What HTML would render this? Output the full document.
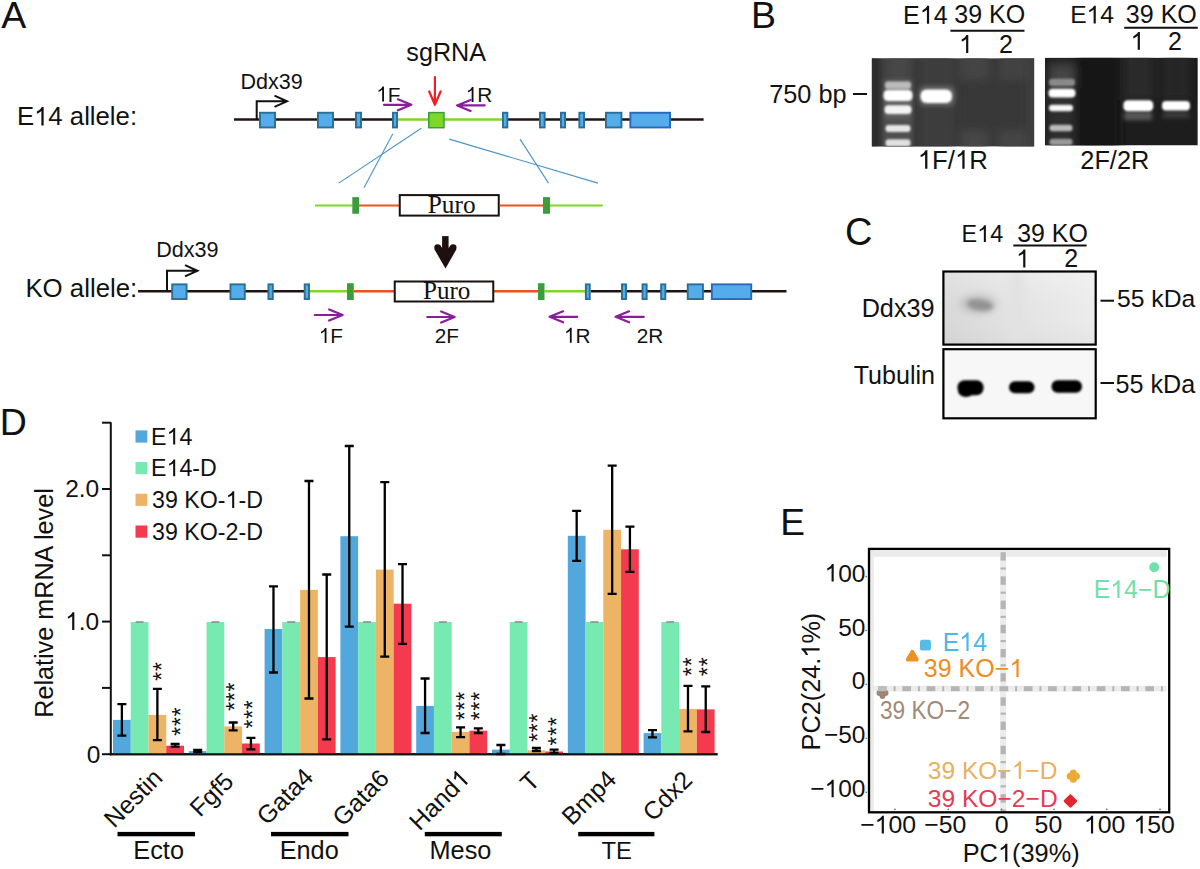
<!DOCTYPE html>
<html><head><meta charset="utf-8"><style>html,body{margin:0;padding:0;background:#fff;}svg{display:block;}</style></head>
<body><svg width="1200" height="869" viewBox="0 0 1200 869">
<rect width="1200" height="869" fill="#fff"/>
<text x="1.23" y="28.30" font-family='"Liberation Sans", sans-serif' font-size="37.50" fill="#111" >A</text><g><text id="t1_0" x="16.89" y="125.40" font-family='"Liberation Sans", sans-serif' font-size="25.74" fill="#111" >E 4 allele:</text><path d="M763,0 L583,0 L583,1147 Q520,1087 418,1027 Q316,967 223,932 L223,1106 Q362,1171 466,1264 Q570,1357 614,1466 L763,1466 Z" fill="#111" transform="translate(34.05,125.40) scale(0.01257,-0.01257)"/></g><text x="25.38" y="296.90" font-family='"Liberation Sans", sans-serif' font-size="25.82" fill="#111" >KO allele:</text><line x1="234.00" y1="119.50" x2="398.00" y2="119.50" stroke="#1e1414" stroke-width="2.4" /><line x1="398.00" y1="119.50" x2="502.00" y2="119.50" stroke="#7ed626" stroke-width="2.4" /><line x1="508.00" y1="119.50" x2="703.60" y2="119.50" stroke="#1e1414" stroke-width="2.4" /><rect x="259.95" y="112.75" width="15.10" height="14.70" fill="#55acea" stroke="#2b6f96" stroke-width="1.9"/><rect x="317.95" y="112.75" width="15.10" height="14.70" fill="#55acea" stroke="#2b6f96" stroke-width="1.9"/><rect x="355.95" y="112.75" width="5.10" height="14.70" fill="#55acea" stroke="#2b6f96" stroke-width="1.9"/><rect x="392.95" y="112.75" width="4.10" height="14.70" fill="#55acea" stroke="#2b6f96" stroke-width="1.9"/><rect x="502.95" y="112.75" width="4.40" height="14.70" fill="#55acea" stroke="#2b6f96" stroke-width="1.9"/><rect x="539.95" y="112.75" width="4.70" height="14.70" fill="#55acea" stroke="#2b6f96" stroke-width="1.9"/><rect x="560.95" y="112.75" width="4.10" height="14.70" fill="#55acea" stroke="#2b6f96" stroke-width="1.9"/><rect x="579.35" y="112.75" width="4.70" height="14.70" fill="#55acea" stroke="#2b6f96" stroke-width="1.9"/><rect x="605.95" y="112.75" width="15.50" height="14.70" fill="#55acea" stroke="#2b6f96" stroke-width="1.9"/><rect x="630.35" y="112.75" width="39.70" height="14.70" fill="#55acea" stroke="#2a68b8" stroke-width="1.9"/><rect x="428.75" y="112.6" width="15.2" height="15.1" fill="#7fd62b" stroke="#3a9e3c" stroke-width="1.5"/><path d="M256.70,119.50 L256.70,101.30 L287.00,101.30 M274.50,95.70 L287.00,101.30 L274.50,106.90" stroke="#111" stroke-width="2" fill="none"/><text x="240.54" y="89.30" font-family='"Liberation Sans", sans-serif' font-size="21.51" fill="#111" >Ddx39</text><text x="406.30" y="61.30" font-family='"Liberation Sans", sans-serif' font-size="25.18" fill="#111" >sgRNA</text><g><text id="t1_1" x="376.24" y="101.50" font-family='"Liberation Sans", sans-serif' font-size="20.80" fill="#111" > F</text><path d="M763,0 L583,0 L583,1147 Q520,1087 418,1027 Q316,967 223,932 L223,1106 Q362,1171 466,1264 Q570,1357 614,1466 L763,1466 Z" fill="#111" transform="translate(376.24,101.50) scale(0.01016,-0.01016)"/></g><g><text id="t1_2" x="465.74" y="102.00" font-family='"Liberation Sans", sans-serif' font-size="20.80" fill="#111" > R</text><path d="M763,0 L583,0 L583,1147 Q520,1087 418,1027 Q316,967 223,932 L223,1106 Q362,1171 466,1264 Q570,1357 614,1466 L763,1466 Z" fill="#111" transform="translate(465.74,102.00) scale(0.01016,-0.01016)"/></g><path d="M384.00,104.80 L411.40,104.80 M397.90,99.30 L411.40,104.80 L397.90,110.30" stroke="#8a1e9a" stroke-width="2.2" fill="none" stroke-linecap="round" stroke-linejoin="round"/><path d="M484.70,105.40 L457.10,105.40 M470.60,99.90 L457.10,105.40 L470.60,110.90" stroke="#8a1e9a" stroke-width="2.2" fill="none" stroke-linecap="round" stroke-linejoin="round"/><path d="M434.9,77 L434.9,104.8 M429.2,91.5 L434.9,104.8 L440.6,91.5" stroke="#f02020" stroke-width="2.2" fill="none" stroke-linecap="round" stroke-linejoin="round"/><line x1="392.80" y1="133.80" x2="364.00" y2="187.70" stroke="#4a94c8" stroke-width="1.1" /><line x1="421.30" y1="128.20" x2="338.70" y2="183.10" stroke="#4a94c8" stroke-width="1.1" /><line x1="449.30" y1="139.10" x2="598.00" y2="183.10" stroke="#4a94c8" stroke-width="1.1" /><line x1="520.00" y1="139.10" x2="548.50" y2="183.10" stroke="#4a94c8" stroke-width="1.1" /><line x1="315.00" y1="205.50" x2="352.30" y2="205.50" stroke="#7ed626" stroke-width="2" /><rect x="352.30" y="197.10" width="6.70" height="16.65" fill="#3a9e3c" /><line x1="359.00" y1="205.50" x2="399.00" y2="205.50" stroke="#f0501e" stroke-width="2" /><rect x="399.75" y="195.1" width="99" height="20.5" fill="#fff" stroke="#1a1010" stroke-width="2"/><text x="427.77" y="213.00" font-family='"Liberation Serif", serif' font-size="25.30" fill="#111" >Puro</text><line x1="499.70" y1="205.50" x2="543.00" y2="205.50" stroke="#f0501e" stroke-width="2" /><rect x="543.00" y="197.10" width="7.00" height="16.65" fill="#3a9e3c" /><line x1="550.00" y1="205.50" x2="602.80" y2="205.50" stroke="#7ed626" stroke-width="2" /><g fill="#1e1010"><rect x="442.1" y="236.1" width="6.5" height="16"/><circle cx="437.6" cy="247.6" r="3.3"/><circle cx="453.2" cy="247.6" r="3.3"/><polygon points="434.4,249.3 440.2,245.6 445.4,251.5 450.6,245.6 456.4,249.3 445.5,268.6"/></g><line x1="138.10" y1="291.30" x2="310.00" y2="291.30" stroke="#1e1414" stroke-width="2.4" /><line x1="310.00" y1="291.30" x2="347.00" y2="291.30" stroke="#7ed626" stroke-width="2.4" /><line x1="353.75" y1="291.30" x2="394.00" y2="291.30" stroke="#f0501e" stroke-width="2.4" /><line x1="494.00" y1="291.30" x2="538.00" y2="291.30" stroke="#f0501e" stroke-width="2.4" /><line x1="544.50" y1="291.30" x2="585.00" y2="291.30" stroke="#7ed626" stroke-width="2.4" /><line x1="590.70" y1="291.30" x2="786.50" y2="291.30" stroke="#1e1414" stroke-width="2.4" /><rect x="172.20" y="284.35" width="14.35" height="14.70" fill="#55acea" stroke="#2b6f96" stroke-width="1.9"/><rect x="230.45" y="284.35" width="14.35" height="14.70" fill="#55acea" stroke="#2b6f96" stroke-width="1.9"/><rect x="268.45" y="284.35" width="4.35" height="14.70" fill="#55acea" stroke="#2b6f96" stroke-width="1.9"/><rect x="304.70" y="284.35" width="4.35" height="14.70" fill="#55acea" stroke="#2b6f96" stroke-width="1.9"/><rect x="585.85" y="284.35" width="3.90" height="14.70" fill="#55acea" stroke="#2b6f96" stroke-width="1.9"/><rect x="621.95" y="284.35" width="4.10" height="14.70" fill="#55acea" stroke="#2b6f96" stroke-width="1.9"/><rect x="642.55" y="284.35" width="4.10" height="14.70" fill="#55acea" stroke="#2b6f96" stroke-width="1.9"/><rect x="661.15" y="284.35" width="4.20" height="14.70" fill="#55acea" stroke="#2b6f96" stroke-width="1.9"/><rect x="687.75" y="284.35" width="15.20" height="14.70" fill="#55acea" stroke="#2b6f96" stroke-width="1.9"/><rect x="711.85" y="284.35" width="39.40" height="14.70" fill="#55acea" stroke="#2a68b8" stroke-width="1.9"/><rect x="347.00" y="283.20" width="6.75" height="16.80" fill="#3a9e3c" /><rect x="538.00" y="283.20" width="6.50" height="16.80" fill="#3a9e3c" /><rect x="394.75" y="281.5" width="98.5" height="20" fill="#fff" stroke="#1a1010" stroke-width="2"/><text x="423.02" y="299.30" font-family='"Liberation Serif", serif' font-size="25.10" fill="#111" >Puro</text><path d="M167.00,291.30 L167.00,270.75 L197.50,270.75 M185.00,265.15 L197.50,270.75 L185.00,276.35" stroke="#111" stroke-width="2" fill="none"/><text x="156.23" y="256.75" font-family='"Liberation Sans", sans-serif' font-size="21.55" fill="#111" >Ddx39</text><path d="M314.75,315.00 L342.65,315.00 M329.15,309.50 L342.65,315.00 L329.15,320.50" stroke="#8a1e9a" stroke-width="2.2" fill="none" stroke-linecap="round" stroke-linejoin="round"/><path d="M427.25,317.00 L454.65,317.00 M441.15,311.50 L454.65,317.00 L441.15,322.50" stroke="#8a1e9a" stroke-width="2.2" fill="none" stroke-linecap="round" stroke-linejoin="round"/><path d="M577.30,316.80 L549.60,316.80 M563.10,311.30 L549.60,316.80 L563.10,322.30" stroke="#8a1e9a" stroke-width="2.2" fill="none" stroke-linecap="round" stroke-linejoin="round"/><path d="M643.80,316.80 L615.60,316.80 M629.10,311.30 L615.60,316.80 L629.10,322.30" stroke="#8a1e9a" stroke-width="2.2" fill="none" stroke-linecap="round" stroke-linejoin="round"/><g><text id="t1_3" x="318.74" y="343.00" font-family='"Liberation Sans", sans-serif' font-size="20.80" fill="#111" > F</text><path d="M763,0 L583,0 L583,1147 Q520,1087 418,1027 Q316,967 223,932 L223,1106 Q362,1171 466,1264 Q570,1357 614,1466 L763,1466 Z" fill="#111" transform="translate(318.74,343.00) scale(0.01016,-0.01016)"/></g><text x="434.71" y="343.00" font-family='"Liberation Sans", sans-serif' font-size="20.80" fill="#111" >2F</text><g><text id="t1_4" x="563.94" y="342.70" font-family='"Liberation Sans", sans-serif' font-size="20.80" fill="#111" > R</text><path d="M763,0 L583,0 L583,1147 Q520,1087 418,1027 Q316,967 223,932 L223,1106 Q362,1171 466,1264 Q570,1357 614,1466 L763,1466 Z" fill="#111" transform="translate(563.94,342.70) scale(0.01016,-0.01016)"/></g><text x="636.76" y="342.70" font-family='"Liberation Sans", sans-serif' font-size="20.80" fill="#111" >2R</text><text x="750.92" y="28.20" font-family='"Liberation Sans", sans-serif' font-size="37.50" fill="#111" >B</text><g><text id="t1_5" x="903.04" y="23.80" font-family='"Liberation Sans", sans-serif' font-size="25.12" fill="#111" >E 4</text><path d="M763,0 L583,0 L583,1147 Q520,1087 418,1027 Q316,967 223,932 L223,1106 Q362,1171 466,1264 Q570,1357 614,1466 L763,1466 Z" fill="#111" transform="translate(919.77,23.80) scale(0.01227,-0.01227)"/></g><text x="954.25" y="23.40" font-family='"Liberation Sans", sans-serif' font-size="25.03" fill="#111" >39 KO</text><line x1="950.40" y1="30.80" x2="1024.50" y2="30.80" stroke="#111" stroke-width="2" /><g><text id="t1_6" x="958.98" y="53.00" font-family='"Liberation Sans", sans-serif' font-size="25.00" fill="#111" > </text><path d="M763,0 L583,0 L583,1147 Q520,1087 418,1027 Q316,967 223,932 L223,1106 Q362,1171 466,1264 Q570,1357 614,1466 L763,1466 Z" fill="#111" transform="translate(958.98,53.00) scale(0.01221,-0.01221)"/></g><text x="998.95" y="53.00" font-family='"Liberation Sans", sans-serif' font-size="25.00" fill="#111" >2</text><g><text id="t1_7" x="1070.18" y="23.40" font-family='"Liberation Sans", sans-serif' font-size="24.64" fill="#111" >E 4</text><path d="M763,0 L583,0 L583,1147 Q520,1087 418,1027 Q316,967 223,932 L223,1106 Q362,1171 466,1264 Q570,1357 614,1466 L763,1466 Z" fill="#111" transform="translate(1086.60,23.40) scale(0.01203,-0.01203)"/></g><text x="1125.85" y="23.40" font-family='"Liberation Sans", sans-serif' font-size="25.06" fill="#111" >39 KO</text><line x1="1124.20" y1="27.70" x2="1197.80" y2="27.70" stroke="#111" stroke-width="2" /><g><text id="t1_8" x="1130.58" y="49.80" font-family='"Liberation Sans", sans-serif' font-size="25.00" fill="#111" > </text><path d="M763,0 L583,0 L583,1147 Q520,1087 418,1027 Q316,967 223,932 L223,1106 Q362,1171 466,1264 Q570,1357 614,1466 L763,1466 Z" fill="#111" transform="translate(1130.58,49.80) scale(0.01221,-0.01221)"/></g><text x="1168.05" y="49.80" font-family='"Liberation Sans", sans-serif' font-size="25.00" fill="#111" >2</text><text x="769.21" y="102.80" font-family='"Liberation Sans", sans-serif' font-size="25.30" fill="#111" >750 bp</text><line x1="853.00" y1="94.00" x2="867.00" y2="94.00" stroke="#111" stroke-width="2" /><g><text id="t1_9" x="917.80" y="168.80" font-family='"Liberation Sans", sans-serif' font-size="25.75" fill="#111" > F/ R</text><path d="M763,0 L583,0 L583,1147 Q520,1087 418,1027 Q316,967 223,932 L223,1106 Q362,1171 466,1264 Q570,1357 614,1466 L763,1466 Z" fill="#111" transform="translate(917.80,168.80) scale(0.01257,-0.01257)"/><path d="M763,0 L583,0 L583,1147 Q520,1087 418,1027 Q316,967 223,932 L223,1106 Q362,1171 466,1264 Q570,1357 614,1466 L763,1466 Z" fill="#111" transform="translate(955.00,168.80) scale(0.01257,-0.01257)"/></g><text x="1080.33" y="168.80" font-family='"Liberation Sans", sans-serif' font-size="25.32" fill="#111" >2F/2R</text><defs>
<filter id="b1" x="-50%" y="-50%" width="200%" height="200%"><feGaussianBlur stdDeviation="1.2"/></filter>
<filter id="b2" x="-50%" y="-50%" width="200%" height="200%"><feGaussianBlur stdDeviation="2.2"/></filter>
<filter id="b4" x="-50%" y="-50%" width="200%" height="200%"><feGaussianBlur stdDeviation="4"/></filter>
<clipPath id="g1c"><rect x="871.8" y="58.3" width="162.4" height="88.3"/></clipPath>
<clipPath id="g2c"><rect x="1044.9" y="57.7" width="152.9" height="87.8"/></clipPath>
<clipPath id="w1c"><rect x="943.5" y="271.6" width="152" height="72.8"/></clipPath>
<clipPath id="w2c"><rect x="943.5" y="349.3" width="152" height="69"/></clipPath>
<linearGradient id="w1g" x1="0" y1="0" x2="1" y2="0"><stop offset="0" stop-color="#d8d8d8"/><stop offset="0.4" stop-color="#e2e2e2"/><stop offset="1" stop-color="#ececec"/></linearGradient>
<linearGradient id="w1v" x1="0" y1="0" x2="0" y2="1"><stop offset="0" stop-color="#fff" stop-opacity="0.25"/><stop offset="0.5" stop-color="#fff" stop-opacity="0"/><stop offset="1" stop-color="#000" stop-opacity="0.03"/></linearGradient>
</defs><g clip-path="url(#g1c)"><rect x="871.80" y="58.30" width="162.40" height="88.30" fill="#383838" /><g filter="url(#b4)"><rect x="860.00" y="50.00" width="20.00" height="105.00" fill="#2a2a2a" /><rect x="884.00" y="50.00" width="28.00" height="105.00" fill="#464646" /><rect x="913.00" y="50.00" width="5.00" height="105.00" fill="#333" /><rect x="919.00" y="50.00" width="35.00" height="105.00" fill="#3e3e3e" /><rect x="961.00" y="50.00" width="27.00" height="30.00" fill="#444" /><rect x="999.00" y="50.00" width="27.00" height="30.00" fill="#424242" /><rect x="961.00" y="130.00" width="27.00" height="25.00" fill="#464646" /><rect x="999.00" y="130.00" width="27.00" height="25.00" fill="#454545" /><rect x="1026.00" y="50.00" width="14.00" height="105.00" fill="#3e3e3e" /></g><g filter="url(#b2)"><rect x="884.00" y="80.00" width="28.00" height="38.00" fill="#606060" /><rect x="884.00" y="118.00" width="28.00" height="32.00" fill="#505050" /><rect x="919" y="86" width="36" height="20" rx="6" fill="#666"/></g><g filter="url(#b1)"><rect x="885" y="81.5" width="26" height="7.5" rx="3" fill="#bbb"/><rect x="883.5" y="90" width="29" height="11" rx="4.5" fill="#fff"/><rect x="884.5" y="105.3" width="27" height="8.8" rx="4" fill="#f4f4f4"/><rect x="885.5" y="125" width="25" height="7" rx="3" fill="#e6e6e6"/><rect x="885.5" y="139.3" width="25" height="7.3" rx="3" fill="#e0e0e0"/><rect x="920.5" y="89.5" width="31.5" height="13.6" rx="6" fill="#fff"/></g></g><g clip-path="url(#g2c)"><rect x="1044.90" y="57.70" width="152.90" height="87.80" fill="#1d1d1d" /><g filter="url(#b4)"><rect x="1048.00" y="60.00" width="27.00" height="90.00" fill="#2e2e2e" /><rect x="1050.00" y="66.00" width="24.00" height="22.00" fill="#454545" /><rect x="1076.00" y="50.00" width="44.00" height="105.00" fill="#181818" /><rect x="1123.00" y="50.00" width="30.00" height="50.00" fill="#2a2a2a" /><rect x="1162.00" y="50.00" width="28.00" height="50.00" fill="#272727" /></g><g filter="url(#b2)"><rect x="1124.00" y="112.00" width="28.00" height="8.00" fill="#5a5a5a" /><rect x="1163.00" y="112.00" width="26.00" height="6.00" fill="#3c3c3c" /></g><g filter="url(#b1)"><rect x="1049" y="78.7" width="26" height="7.3" rx="3" fill="#8a8a8a"/><rect x="1048.5" y="88.7" width="27" height="8.8" rx="4" fill="#fff"/><rect x="1049" y="104.7" width="24" height="6.6" rx="3" fill="#f8f8f8"/><rect x="1049.5" y="124.7" width="23" height="6.6" rx="3" fill="#bbb"/><rect x="1049.5" y="138.7" width="23" height="6.6" rx="3" fill="#999"/><rect x="1123.3" y="100.2" width="30" height="11" rx="4.5" fill="#fff"/><rect x="1162" y="101" width="28" height="9.5" rx="4" fill="#fff"/></g></g><text x="844.96" y="244.70" font-family='"Liberation Sans", sans-serif' font-size="38.00" fill="#111" >C</text><g><text id="t1_10" x="961.58" y="242.10" font-family='"Liberation Sans", sans-serif' font-size="23.40" fill="#111" >E 4</text><path d="M763,0 L583,0 L583,1147 Q520,1087 418,1027 Q316,967 223,932 L223,1106 Q362,1171 466,1264 Q570,1357 614,1466 L763,1466 Z" fill="#111" transform="translate(977.17,242.10) scale(0.01143,-0.01143)"/></g><text x="1017.15" y="242.10" font-family='"Liberation Sans", sans-serif' font-size="24.92" fill="#111" >39 KO</text><line x1="1013.30" y1="245.60" x2="1086.60" y2="245.60" stroke="#111" stroke-width="2" /><g><text id="t1_11" x="1016.08" y="267.40" font-family='"Liberation Sans", sans-serif' font-size="25.00" fill="#111" > </text><path d="M763,0 L583,0 L583,1147 Q520,1087 418,1027 Q316,967 223,932 L223,1106 Q362,1171 466,1264 Q570,1357 614,1466 L763,1466 Z" fill="#111" transform="translate(1016.08,267.40) scale(0.01221,-0.01221)"/></g><text x="1064.15" y="267.40" font-family='"Liberation Sans", sans-serif' font-size="25.00" fill="#111" >2</text><text x="861.63" y="317.20" font-family='"Liberation Sans", sans-serif' font-size="25.24" fill="#111" >Ddx39</text><text x="853.65" y="383.70" font-family='"Liberation Sans", sans-serif' font-size="25.10" fill="#111" >Tubulin</text><line x1="1100.50" y1="300.70" x2="1114.00" y2="300.70" stroke="#111" stroke-width="2" /><text x="1117.01" y="306.70" font-family='"Liberation Sans", sans-serif' font-size="24.68" fill="#111" >55 kDa</text><line x1="1100.50" y1="383.00" x2="1114.00" y2="383.00" stroke="#111" stroke-width="2" /><text x="1115.49" y="392.50" font-family='"Liberation Sans", sans-serif' font-size="25.16" fill="#111" >55 kDa</text><g clip-path="url(#w1c)"><rect x="943.00" y="271.00" width="153.00" height="74.00" fill="url(#w1g)" /><rect x="943.00" y="271.00" width="153.00" height="74.00" fill="url(#w1v)" /><ellipse cx="978" cy="304" rx="18" ry="9" fill="#bdbdbd" filter="url(#b4)"/><ellipse cx="980" cy="305" rx="13" ry="5.5" fill="#939393" filter="url(#b2)" transform="rotate(8 980 305)"/><rect x="1010" y="271" width="14" height="74" fill="#e2e2e2" filter="url(#b4)"/></g><rect x="943.4" y="271.5" width="152.3" height="73.1" fill="none" stroke="#000" stroke-width="2.2"/><g clip-path="url(#w2c)"><rect x="943.00" y="349.00" width="153.00" height="70.00" fill="#f7f7f7" /><g filter="url(#b1)" fill="#000"><rect x="957.5" y="380.3" width="26" height="15" rx="7"/><ellipse cx="966" cy="391" rx="8" ry="6"/><rect x="1009" y="381.3" width="25.5" height="12" rx="6"/><rect x="1051.5" y="380.3" width="30.5" height="12.5" rx="6"/></g></g><rect x="943.4" y="349.2" width="152.3" height="69.1" fill="none" stroke="#000" stroke-width="2.2"/><text x="-0.38" y="435.00" font-family='"Liberation Sans", sans-serif' font-size="37.50" fill="#111" >D</text><line x1="110.80" y1="422.30" x2="110.80" y2="755.20" stroke="#111" stroke-width="2" /><line x1="109.80" y1="754.20" x2="717.50" y2="754.20" stroke="#111" stroke-width="2" /><line x1="102.00" y1="754.20" x2="110.80" y2="754.20" stroke="#111" stroke-width="2" /><line x1="102.00" y1="687.90" x2="110.80" y2="687.90" stroke="#111" stroke-width="2" /><line x1="102.00" y1="621.60" x2="110.80" y2="621.60" stroke="#111" stroke-width="2" /><line x1="102.00" y1="555.30" x2="110.80" y2="555.30" stroke="#111" stroke-width="2" /><line x1="102.00" y1="489.00" x2="110.80" y2="489.00" stroke="#111" stroke-width="2" /><line x1="102.00" y1="422.70" x2="110.80" y2="422.70" stroke="#111" stroke-width="2" /><text x="65.20" y="497.30" font-family='"Liberation Sans", sans-serif' font-size="24.50" fill="#111" >2.0</text><g><text id="t1_12" x="65.20" y="629.90" font-family='"Liberation Sans", sans-serif' font-size="24.50" fill="#111" > .0</text><path d="M763,0 L583,0 L583,1147 Q520,1087 418,1027 Q316,967 223,932 L223,1106 Q362,1171 466,1264 Q570,1357 614,1466 L763,1466 Z" fill="#111" transform="translate(65.20,629.90) scale(0.01196,-0.01196)"/></g><text x="86.63" y="762.50" font-family='"Liberation Sans", sans-serif' font-size="24.50" fill="#111" >0</text><text transform="translate(53.3,603) rotate(-90)" text-anchor="middle" font-family='"Liberation Sans", sans-serif' font-size="25.2" fill="#111">Relative mRNA level</text><rect x="135.50" y="430.40" width="11.80" height="12.20" fill="#52a8dc" /><g><text id="t1_13" x="151.10" y="444.60" font-family='"Liberation Sans", sans-serif' font-size="23.20" fill="#111" >E 4</text><path d="M763,0 L583,0 L583,1147 Q520,1087 418,1027 Q316,967 223,932 L223,1106 Q362,1171 466,1264 Q570,1357 614,1466 L763,1466 Z" fill="#111" transform="translate(166.55,444.60) scale(0.01133,-0.01133)"/></g><rect x="135.50" y="462.00" width="11.80" height="12.20" fill="#76eab0" /><g><text id="t1_14" x="151.10" y="476.20" font-family='"Liberation Sans", sans-serif' font-size="23.20" fill="#111" >E 4-D</text><path d="M763,0 L583,0 L583,1147 Q520,1087 418,1027 Q316,967 223,932 L223,1106 Q362,1171 466,1264 Q570,1357 614,1466 L763,1466 Z" fill="#111" transform="translate(166.55,476.20) scale(0.01133,-0.01133)"/></g><rect x="135.50" y="493.70" width="11.80" height="12.20" fill="#ecb464" /><g><text id="t1_15" x="152.12" y="507.90" font-family='"Liberation Sans", sans-serif' font-size="23.20" fill="#111" >39 KO- -D</text><path d="M763,0 L583,0 L583,1147 Q520,1087 418,1027 Q316,967 223,932 L223,1106 Q362,1171 466,1264 Q570,1357 614,1466 L763,1466 Z" fill="#111" transform="translate(225.57,507.90) scale(0.01133,-0.01133)"/></g><rect x="135.50" y="525.50" width="11.80" height="12.20" fill="#f43a4e" /><text x="152.12" y="539.70" font-family='"Liberation Sans", sans-serif' font-size="23.20" fill="#111" >39 KO-2-D</text><rect x="113.00" y="719.90" width="17.75" height="34.30" fill="#52a8dc"/><rect x="130.75" y="622.00" width="17.75" height="132.20" fill="#76eab0"/><rect x="148.50" y="714.90" width="17.75" height="39.30" fill="#ecb464"/><rect x="166.25" y="745.70" width="17.75" height="8.50" fill="#f43a4e"/><rect x="188.80" y="751.10" width="17.75" height="3.10" fill="#52a8dc"/><rect x="206.55" y="622.00" width="17.75" height="132.20" fill="#76eab0"/><rect x="224.30" y="726.40" width="17.75" height="27.80" fill="#ecb464"/><rect x="242.05" y="743.50" width="17.75" height="10.70" fill="#f43a4e"/><rect x="264.60" y="629.00" width="17.75" height="125.20" fill="#52a8dc"/><rect x="282.35" y="622.00" width="17.75" height="132.20" fill="#76eab0"/><rect x="300.10" y="589.90" width="17.75" height="164.30" fill="#ecb464"/><rect x="317.85" y="657.10" width="17.75" height="97.10" fill="#f43a4e"/><rect x="340.40" y="536.20" width="17.75" height="218.00" fill="#52a8dc"/><rect x="358.15" y="622.00" width="17.75" height="132.20" fill="#76eab0"/><rect x="375.90" y="569.60" width="17.75" height="184.60" fill="#ecb464"/><rect x="393.65" y="603.70" width="17.75" height="150.50" fill="#f43a4e"/><rect x="416.20" y="705.90" width="17.75" height="48.30" fill="#52a8dc"/><rect x="433.95" y="622.00" width="17.75" height="132.20" fill="#76eab0"/><rect x="451.70" y="731.90" width="17.75" height="22.30" fill="#ecb464"/><rect x="469.45" y="730.70" width="17.75" height="23.50" fill="#f43a4e"/><rect x="492.00" y="749.60" width="17.75" height="4.60" fill="#52a8dc"/><rect x="509.75" y="622.00" width="17.75" height="132.20" fill="#76eab0"/><rect x="527.50" y="750.30" width="17.75" height="3.90" fill="#ecb464"/><rect x="545.25" y="751.50" width="17.75" height="2.70" fill="#f43a4e"/><rect x="567.80" y="535.80" width="17.75" height="218.40" fill="#52a8dc"/><rect x="585.55" y="622.00" width="17.75" height="132.20" fill="#76eab0"/><rect x="603.30" y="529.80" width="17.75" height="224.40" fill="#ecb464"/><rect x="621.05" y="549.30" width="17.75" height="204.90" fill="#f43a4e"/><rect x="643.60" y="733.10" width="17.75" height="21.10" fill="#52a8dc"/><rect x="661.35" y="622.00" width="17.75" height="132.20" fill="#76eab0"/><rect x="679.10" y="708.90" width="17.75" height="45.30" fill="#ecb464"/><rect x="696.85" y="709.40" width="17.75" height="44.80" fill="#f43a4e"/><path d="M121.88,704.20 V735.60 M117.38,704.20 H126.38 M117.38,735.60 H126.38" stroke="#000" stroke-width="2.3" fill="none"/><line x1="135.62" y1="622.00" x2="143.62" y2="622.00" stroke="#888" stroke-width="1.5"/><path d="M157.38,688.90 V740.20 M152.88,688.90 H161.88 M152.88,740.20 H161.88" stroke="#000" stroke-width="2.3" fill="none"/><path d="M175.12,743.90 V746.60 M170.62,743.90 H179.62 M170.62,746.60 H179.62" stroke="#000" stroke-width="2.3" fill="none"/><path d="M197.68,750.00 V752.20 M193.18,750.00 H202.18 M193.18,752.20 H202.18" stroke="#000" stroke-width="2.3" fill="none"/><line x1="211.43" y1="622.00" x2="219.43" y2="622.00" stroke="#888" stroke-width="1.5"/><path d="M233.18,722.50 V730.40 M228.68,722.50 H237.68 M228.68,730.40 H237.68" stroke="#000" stroke-width="2.3" fill="none"/><path d="M250.93,737.80 V749.40 M246.43,737.80 H255.43 M246.43,749.40 H255.43" stroke="#000" stroke-width="2.3" fill="none"/><path d="M273.48,586.40 V672.50 M268.98,586.40 H277.98 M268.98,672.50 H277.98" stroke="#000" stroke-width="2.3" fill="none"/><line x1="287.23" y1="622.00" x2="295.23" y2="622.00" stroke="#888" stroke-width="1.5"/><path d="M308.98,481.00 V698.50 M304.48,481.00 H313.48 M304.48,698.50 H313.48" stroke="#000" stroke-width="2.3" fill="none"/><path d="M326.73,574.50 V739.30 M322.23,574.50 H331.23 M322.23,739.30 H331.23" stroke="#000" stroke-width="2.3" fill="none"/><path d="M349.27,446.00 V626.70 M344.77,446.00 H353.77 M344.77,626.70 H353.77" stroke="#000" stroke-width="2.3" fill="none"/><line x1="363.02" y1="622.00" x2="371.02" y2="622.00" stroke="#888" stroke-width="1.5"/><path d="M384.77,482.20 V656.60 M380.27,482.20 H389.27 M380.27,656.60 H389.27" stroke="#000" stroke-width="2.3" fill="none"/><path d="M402.52,564.10 V643.80 M398.02,564.10 H407.02 M398.02,643.80 H407.02" stroke="#000" stroke-width="2.3" fill="none"/><path d="M425.07,678.50 V733.00 M420.57,678.50 H429.57 M420.57,733.00 H429.57" stroke="#000" stroke-width="2.3" fill="none"/><line x1="438.82" y1="622.00" x2="446.82" y2="622.00" stroke="#888" stroke-width="1.5"/><path d="M460.57,727.30 V737.20 M456.07,727.30 H465.07 M456.07,737.20 H465.07" stroke="#000" stroke-width="2.3" fill="none"/><path d="M478.32,728.40 V733.00 M473.82,728.40 H482.82 M473.82,733.00 H482.82" stroke="#000" stroke-width="2.3" fill="none"/><path d="M500.88,745.00 V754.00 M496.38,745.00 H505.38 M496.38,754.00 H505.38" stroke="#000" stroke-width="2.3" fill="none"/><line x1="514.62" y1="622.00" x2="522.62" y2="622.00" stroke="#888" stroke-width="1.5"/><path d="M536.38,748.00 V751.00 M531.88,748.00 H540.88 M531.88,751.00 H540.88" stroke="#000" stroke-width="2.3" fill="none"/><path d="M554.12,749.60 V753.00 M549.62,749.60 H558.62 M549.62,753.00 H558.62" stroke="#000" stroke-width="2.3" fill="none"/><path d="M576.67,510.90 V560.90 M572.17,510.90 H581.17 M572.17,560.90 H581.17" stroke="#000" stroke-width="2.3" fill="none"/><line x1="590.42" y1="622.00" x2="598.42" y2="622.00" stroke="#888" stroke-width="1.5"/><path d="M612.17,465.60 V593.80 M607.67,465.60 H616.67 M607.67,593.80 H616.67" stroke="#000" stroke-width="2.3" fill="none"/><path d="M629.92,526.60 V571.90 M625.42,526.60 H634.42 M625.42,571.90 H634.42" stroke="#000" stroke-width="2.3" fill="none"/><path d="M652.48,730.10 V737.30 M647.98,730.10 H656.98 M647.98,737.30 H656.98" stroke="#000" stroke-width="2.3" fill="none"/><line x1="666.23" y1="622.00" x2="674.23" y2="622.00" stroke="#888" stroke-width="1.5"/><path d="M687.98,685.90 V731.30 M683.48,685.90 H692.48 M683.48,731.30 H692.48" stroke="#000" stroke-width="2.3" fill="none"/><path d="M705.73,686.40 V732.00 M701.23,686.40 H710.23 M701.23,732.00 H710.23" stroke="#000" stroke-width="2.3" fill="none"/><line x1="109.80" y1="754.20" x2="717.50" y2="754.20" stroke="#111" stroke-width="2" /><text transform="translate(157.80,666.60) rotate(-90) translate(-4.47,11.79)" font-family='"Liberation Sans", sans-serif' font-size="23" fill="#111">*</text><text transform="translate(157.80,676.30) rotate(-90) translate(-4.47,11.79)" font-family='"Liberation Sans", sans-serif' font-size="23" fill="#111">*</text><text transform="translate(177.40,711.90) rotate(-90) translate(-4.47,11.79)" font-family='"Liberation Sans", sans-serif' font-size="23" fill="#111">*</text><text transform="translate(177.40,721.60) rotate(-90) translate(-4.47,11.79)" font-family='"Liberation Sans", sans-serif' font-size="23" fill="#111">*</text><text transform="translate(177.40,731.30) rotate(-90) translate(-4.47,11.79)" font-family='"Liberation Sans", sans-serif' font-size="23" fill="#111">*</text><text transform="translate(230.80,687.00) rotate(-90) translate(-4.47,11.79)" font-family='"Liberation Sans", sans-serif' font-size="23" fill="#111">*</text><text transform="translate(230.80,696.70) rotate(-90) translate(-4.47,11.79)" font-family='"Liberation Sans", sans-serif' font-size="23" fill="#111">*</text><text transform="translate(230.80,706.40) rotate(-90) translate(-4.47,11.79)" font-family='"Liberation Sans", sans-serif' font-size="23" fill="#111">*</text><text transform="translate(249.00,704.70) rotate(-90) translate(-4.47,11.79)" font-family='"Liberation Sans", sans-serif' font-size="23" fill="#111">*</text><text transform="translate(249.00,714.40) rotate(-90) translate(-4.47,11.79)" font-family='"Liberation Sans", sans-serif' font-size="23" fill="#111">*</text><text transform="translate(249.00,724.10) rotate(-90) translate(-4.47,11.79)" font-family='"Liberation Sans", sans-serif' font-size="23" fill="#111">*</text><text transform="translate(461.00,696.30) rotate(-90) translate(-4.47,11.79)" font-family='"Liberation Sans", sans-serif' font-size="23" fill="#111">*</text><text transform="translate(461.00,706.00) rotate(-90) translate(-4.47,11.79)" font-family='"Liberation Sans", sans-serif' font-size="23" fill="#111">*</text><text transform="translate(461.00,715.70) rotate(-90) translate(-4.47,11.79)" font-family='"Liberation Sans", sans-serif' font-size="23" fill="#111">*</text><text transform="translate(476.70,696.30) rotate(-90) translate(-4.47,11.79)" font-family='"Liberation Sans", sans-serif' font-size="23" fill="#111">*</text><text transform="translate(476.70,706.00) rotate(-90) translate(-4.47,11.79)" font-family='"Liberation Sans", sans-serif' font-size="23" fill="#111">*</text><text transform="translate(476.70,715.70) rotate(-90) translate(-4.47,11.79)" font-family='"Liberation Sans", sans-serif' font-size="23" fill="#111">*</text><text transform="translate(534.30,718.00) rotate(-90) translate(-4.47,11.79)" font-family='"Liberation Sans", sans-serif' font-size="23" fill="#111">*</text><text transform="translate(534.30,727.70) rotate(-90) translate(-4.47,11.79)" font-family='"Liberation Sans", sans-serif' font-size="23" fill="#111">*</text><text transform="translate(534.30,737.40) rotate(-90) translate(-4.47,11.79)" font-family='"Liberation Sans", sans-serif' font-size="23" fill="#111">*</text><text transform="translate(553.20,721.60) rotate(-90) translate(-4.47,11.79)" font-family='"Liberation Sans", sans-serif' font-size="23" fill="#111">*</text><text transform="translate(553.20,731.30) rotate(-90) translate(-4.47,11.79)" font-family='"Liberation Sans", sans-serif' font-size="23" fill="#111">*</text><text transform="translate(553.20,741.00) rotate(-90) translate(-4.47,11.79)" font-family='"Liberation Sans", sans-serif' font-size="23" fill="#111">*</text><text transform="translate(687.90,661.80) rotate(-90) translate(-4.47,11.79)" font-family='"Liberation Sans", sans-serif' font-size="23" fill="#111">*</text><text transform="translate(687.90,671.50) rotate(-90) translate(-4.47,11.79)" font-family='"Liberation Sans", sans-serif' font-size="23" fill="#111">*</text><text transform="translate(704.50,661.80) rotate(-90) translate(-4.47,11.79)" font-family='"Liberation Sans", sans-serif' font-size="23" fill="#111">*</text><text transform="translate(704.50,671.50) rotate(-90) translate(-4.47,11.79)" font-family='"Liberation Sans", sans-serif' font-size="23" fill="#111">*</text><text x="0.00" y="0.00" transform="translate(114.30,829.00) rotate(-45)" font-family='"Liberation Sans", sans-serif' font-size="24.80" fill="#111" >Nestin</text><text x="0.00" y="0.00" transform="translate(200.00,818.00) rotate(-45)" font-family='"Liberation Sans", sans-serif' font-size="24.80" fill="#111" >Fgf5</text><text x="0.00" y="0.00" transform="translate(267.00,826.30) rotate(-45)" font-family='"Liberation Sans", sans-serif' font-size="24.80" fill="#111" >Gata4</text><text x="0.00" y="0.00" transform="translate(342.80,827.60) rotate(-45)" font-family='"Liberation Sans", sans-serif' font-size="24.80" fill="#111" >Gata6</text><g transform="translate(419.50,831.80) rotate(-45)"><text id="t1_16" x="0.00" y="0.00" font-family='"Liberation Sans", sans-serif' font-size="24.80" fill="#111" >Hand </text><path d="M763,0 L583,0 L583,1147 Q520,1087 418,1027 Q316,967 223,932 L223,1106 Q362,1171 466,1264 Q570,1357 614,1466 L763,1466 Z" fill="#111" transform="translate(59.27,0.00) scale(0.01211,-0.01211)"/></g><text x="0.00" y="0.00" transform="translate(530.50,793.10) rotate(-45)" font-family='"Liberation Sans", sans-serif' font-size="24.80" fill="#111" >T</text><text x="0.00" y="0.00" transform="translate(572.00,826.50) rotate(-45)" font-family='"Liberation Sans", sans-serif' font-size="24.80" fill="#111" >Bmp4</text><text x="0.00" y="0.00" transform="translate(652.90,822.40) rotate(-45)" font-family='"Liberation Sans", sans-serif' font-size="24.80" fill="#111" >Cdx2</text><rect x="117.50" y="831.90" width="77.50" height="4.40" fill="#000" /><text x="133.33" y="858.60" font-family='"Liberation Sans", sans-serif' font-size="25.30" fill="#111" >Ecto</text><rect x="271.00" y="831.90" width="77.50" height="4.40" fill="#000" /><text x="279.63" y="858.60" font-family='"Liberation Sans", sans-serif' font-size="25.30" fill="#111" >Endo</text><rect x="424.80" y="831.90" width="77.00" height="4.40" fill="#000" /><text x="429.53" y="858.60" font-family='"Liberation Sans", sans-serif' font-size="25.30" fill="#111" >Meso</text><rect x="578.20" y="831.90" width="76.20" height="4.40" fill="#000" /><text x="601.58" y="858.60" font-family='"Liberation Sans", sans-serif' font-size="23.80" fill="#111" >TE</text><text x="780.37" y="534.80" font-family='"Liberation Sans", sans-serif' font-size="37.00" fill="#111" >E</text><rect x="870.00" y="550.00" width="298.00" height="261.20" fill="#fff" /><rect x="870.00" y="550.70" width="296.60" height="6.10" fill="#ebebeb" /><rect x="870.00" y="550.00" width="3.80" height="261.00" fill="#ebebeb" /><rect x="1000.10" y="550.70" width="6.10" height="260.30" fill="#ececec" /><rect x="870.00" y="685.70" width="296.60" height="5.80" fill="#ececec" /><g fill="#b5b5b5"><rect x="1000.6" y="552.20" width="5.2" height="8.40"/><rect x="1000.6" y="567.40" width="5.2" height="2.2"/><rect x="1000.6" y="576.40" width="5.2" height="8.40"/><rect x="1000.6" y="591.60" width="5.2" height="2.2"/><rect x="1000.6" y="600.60" width="5.2" height="8.40"/><rect x="1000.6" y="615.80" width="5.2" height="2.2"/><rect x="1000.6" y="624.80" width="5.2" height="8.40"/><rect x="1000.6" y="640.00" width="5.2" height="2.2"/><rect x="1000.6" y="649.00" width="5.2" height="8.40"/><rect x="1000.6" y="664.20" width="5.2" height="2.2"/><rect x="1000.6" y="673.20" width="5.2" height="8.40"/><rect x="1000.6" y="688.40" width="5.2" height="2.2"/><rect x="1000.6" y="697.40" width="5.2" height="8.40"/><rect x="1000.6" y="712.60" width="5.2" height="2.2"/><rect x="1000.6" y="721.60" width="5.2" height="8.40"/><rect x="1000.6" y="736.80" width="5.2" height="2.2"/><rect x="1000.6" y="745.80" width="5.2" height="8.40"/><rect x="1000.6" y="761.00" width="5.2" height="2.2"/><rect x="1000.6" y="770.00" width="5.2" height="8.40"/><rect x="1000.6" y="785.20" width="5.2" height="2.2"/><rect x="1000.6" y="794.20" width="5.2" height="8.40"/><rect x="1000.6" y="809.40" width="5.2" height="2.2"/><rect x="878.00" y="686.2" width="8.70" height="5"/><rect x="893.60" y="686.2" width="2" height="5"/><rect x="902.30" y="686.2" width="8.70" height="5"/><rect x="917.90" y="686.2" width="2" height="5"/><rect x="926.60" y="686.2" width="8.70" height="5"/><rect x="942.20" y="686.2" width="2" height="5"/><rect x="950.90" y="686.2" width="8.70" height="5"/><rect x="966.50" y="686.2" width="2" height="5"/><rect x="975.20" y="686.2" width="8.70" height="5"/><rect x="990.80" y="686.2" width="2" height="5"/><rect x="999.50" y="686.2" width="8.70" height="5"/><rect x="1015.10" y="686.2" width="2" height="5"/><rect x="1023.80" y="686.2" width="8.70" height="5"/><rect x="1039.40" y="686.2" width="2" height="5"/><rect x="1048.10" y="686.2" width="8.70" height="5"/><rect x="1063.70" y="686.2" width="2" height="5"/><rect x="1072.40" y="686.2" width="8.70" height="5"/><rect x="1088.00" y="686.2" width="2" height="5"/><rect x="1096.70" y="686.2" width="8.70" height="5"/><rect x="1112.30" y="686.2" width="2" height="5"/><rect x="1121.00" y="686.2" width="8.70" height="5"/><rect x="1136.60" y="686.2" width="2" height="5"/><rect x="1145.30" y="686.2" width="8.70" height="5"/><rect x="1160.90" y="686.2" width="2" height="5"/></g><rect x="869" y="548.9" width="300.2" height="263.4" fill="none" stroke="#000" stroke-width="2.3"/><circle cx="866.2" cy="576.6" r="0.8" fill="#666"/><circle cx="866.2" cy="630.5" r="0.8" fill="#666"/><circle cx="866.2" cy="684.4" r="0.8" fill="#666"/><circle cx="866.2" cy="738.3" r="0.8" fill="#666"/><circle cx="866.2" cy="792.2" r="0.8" fill="#666"/><circle cx="895" cy="809.4" r="0.8" fill="#666"/><circle cx="948.3" cy="809.4" r="0.8" fill="#666"/><circle cx="1001.5" cy="809.4" r="0.8" fill="#666"/><circle cx="1054.1" cy="809.4" r="0.8" fill="#666"/><circle cx="1106.8" cy="809.4" r="0.8" fill="#666"/><circle cx="1160" cy="809.4" r="0.8" fill="#666"/><g><text id="t1_17" x="824.59" y="581.60" font-family='"Liberation Sans", sans-serif' font-size="24.50" fill="#111" > 00</text><path d="M763,0 L583,0 L583,1147 Q520,1087 418,1027 Q316,967 223,932 L223,1106 Q362,1171 466,1264 Q570,1357 614,1466 L763,1466 Z" fill="#111" transform="translate(824.59,581.60) scale(0.01196,-0.01196)"/></g><text x="838.21" y="635.50" font-family='"Liberation Sans", sans-serif' font-size="24.50" fill="#111" >50</text><text x="851.83" y="689.40" font-family='"Liberation Sans", sans-serif' font-size="24.50" fill="#111" >0</text><text x="823.90" y="743.30" font-family='"Liberation Sans", sans-serif' font-size="24.50" fill="#111" >−50</text><g><text id="t1_18" x="810.28" y="797.20" font-family='"Liberation Sans", sans-serif' font-size="24.50" fill="#111" >− 00</text><path d="M763,0 L583,0 L583,1147 Q520,1087 418,1027 Q316,967 223,932 L223,1106 Q362,1171 466,1264 Q570,1357 614,1466 L763,1466 Z" fill="#111" transform="translate(824.58,797.20) scale(0.01196,-0.01196)"/></g><g><text id="t1_19" x="860.18" y="833.40" font-family='"Liberation Sans", sans-serif' font-size="24.80" fill="#111" >− 00</text><path d="M763,0 L583,0 L583,1147 Q520,1087 418,1027 Q316,967 223,932 L223,1106 Q362,1171 466,1264 Q570,1357 614,1466 L763,1466 Z" fill="#111" transform="translate(874.65,833.40) scale(0.01211,-0.01211)"/></g><text x="924.18" y="833.40" font-family='"Liberation Sans", sans-serif' font-size="24.80" fill="#111" >−50</text><text x="994.73" y="833.40" font-family='"Liberation Sans", sans-serif' font-size="24.80" fill="#111" >0</text><text x="1034.61" y="833.40" font-family='"Liberation Sans", sans-serif' font-size="24.80" fill="#111" >50</text><g><text id="t1_20" x="1083.90" y="833.40" font-family='"Liberation Sans", sans-serif' font-size="24.80" fill="#111" > 00</text><path d="M763,0 L583,0 L583,1147 Q520,1087 418,1027 Q316,967 223,932 L223,1106 Q362,1171 466,1264 Q570,1357 614,1466 L763,1466 Z" fill="#111" transform="translate(1083.90,833.40) scale(0.01211,-0.01211)"/></g><g><text id="t1_21" x="1133.50" y="833.40" font-family='"Liberation Sans", sans-serif' font-size="24.80" fill="#111" > 50</text><path d="M763,0 L583,0 L583,1147 Q520,1087 418,1027 Q316,967 223,932 L223,1106 Q362,1171 466,1264 Q570,1357 614,1466 L763,1466 Z" fill="#111" transform="translate(1133.50,833.40) scale(0.01211,-0.01211)"/></g><g><text id="t1_22" x="962.72" y="861.80" font-family='"Liberation Sans", sans-serif' font-size="25.35" fill="#111" >PC (39%)</text><path d="M763,0 L583,0 L583,1147 Q520,1087 418,1027 Q316,967 223,932 L223,1106 Q362,1171 466,1264 Q570,1357 614,1466 L763,1466 Z" fill="#111" transform="translate(997.92,861.80) scale(0.01238,-0.01238)"/></g><g transform="translate(819.6,681.6) rotate(-90)"><text id="t1_23" x="0.00" y="0.00" text-anchor="middle" font-family='"Liberation Sans", sans-serif' font-size="25.30" fill="#111" >PC2(24. %)</text><path d="M763,0 L583,0 L583,1147 Q520,1087 418,1027 Q316,967 223,932 L223,1106 Q362,1171 466,1264 Q570,1357 614,1466 L763,1466 Z" fill="#111" transform="translate(23.90,0.00) scale(0.01235,-0.01235)"/></g><rect x="920" y="639.7" width="10.9" height="10.9" rx="2.2" fill="#56bce6"/><path d="M912.3,651.9 L916.8,659.6 L907.8,659.6 Z" fill="#ee9028" stroke="#ee9028" stroke-width="4" stroke-linejoin="round"/><circle cx="1154.2" cy="567.2" r="5" fill="#72e0aa"/><g fill="#eaaa35"><circle cx="1070.2" cy="776.2" r="3.5"/><circle cx="1076.3999999999999" cy="776.2" r="3.5"/><circle cx="1073.3" cy="773.1" r="3.5"/><circle cx="1073.3" cy="779.3000000000001" r="3.5"/><rect x="1070.2" y="773.1" width="6.2" height="6.2"/></g><path d="M1070.4,795.6 L1075.8,801 L1070.4,806.4 L1065,801 Z" fill="#e3262e" stroke="#e3262e" stroke-width="2.6" stroke-linejoin="round"/><g transform="translate(942.87,651.10) scale(1,1.05)"><text id="t1_24" x="0.00" y="0.00" font-family='"Liberation Sans", sans-serif' font-size="24.76" fill="#4cb6e6" >E 4</text><path d="M763,0 L583,0 L583,1147 Q520,1087 418,1027 Q316,967 223,932 L223,1106 Q362,1171 466,1264 Q570,1357 614,1466 L763,1466 Z" fill="#4cb6e6" transform="translate(16.50,0.00) scale(0.01209,-0.01209)"/></g><g><text id="t1_25" x="923.85" y="676.90" font-family='"Liberation Sans", sans-serif' font-size="25.00" fill="#ee8c1e" >39 KO− </text><path d="M763,0 L583,0 L583,1147 Q520,1087 418,1027 Q316,967 223,932 L223,1106 Q362,1171 466,1264 Q570,1357 614,1466 L763,1466 Z" fill="#ee8c1e" transform="translate(1009.32,676.90) scale(0.01221,-0.01221)"/></g><text x="0.00" y="0.00" transform="translate(879.94,718.50) scale(1,1.11)" font-family='"Liberation Sans", sans-serif' font-size="22.70" fill="#a08a78" >39 KO−2</text><g><text id="t1_26" x="927.77" y="778.90" font-family='"Liberation Sans", sans-serif' font-size="24.55" fill="#e8b060" >39 KO− −D</text><path d="M763,0 L583,0 L583,1147 Q520,1087 418,1027 Q316,967 223,932 L223,1106 Q362,1171 466,1264 Q570,1357 614,1466 L763,1466 Z" fill="#e8b060" transform="translate(1011.69,778.90) scale(0.01199,-0.01199)"/></g><text x="927.77" y="807.10" font-family='"Liberation Sans", sans-serif' font-size="24.60" fill="#e83a50" >39 KO−2−D</text><g><text id="t1_27" x="1093.66" y="598.00" font-family='"Liberation Sans", sans-serif' font-size="24.91" fill="#72dfa8" >E 4−D</text><path d="M763,0 L583,0 L583,1147 Q520,1087 418,1027 Q316,967 223,932 L223,1106 Q362,1171 466,1264 Q570,1357 614,1466 L763,1466 Z" fill="#72dfa8" transform="translate(1110.27,598.00) scale(0.01216,-0.01216)"/></g><g><g fill="#9e8672"><circle cx="879.4" cy="693" r="2.9"/><circle cx="885.6" cy="693" r="2.9"/><circle cx="882.5" cy="689.9" r="2.9"/><circle cx="882.5" cy="696.1" r="2.9"/><rect x="879.4" y="689.9" width="6.2" height="6.2"/></g><rect x="878" y="686.2" width="8.4" height="5" fill="#bdbdbd"/></g>
</svg></body></html>
